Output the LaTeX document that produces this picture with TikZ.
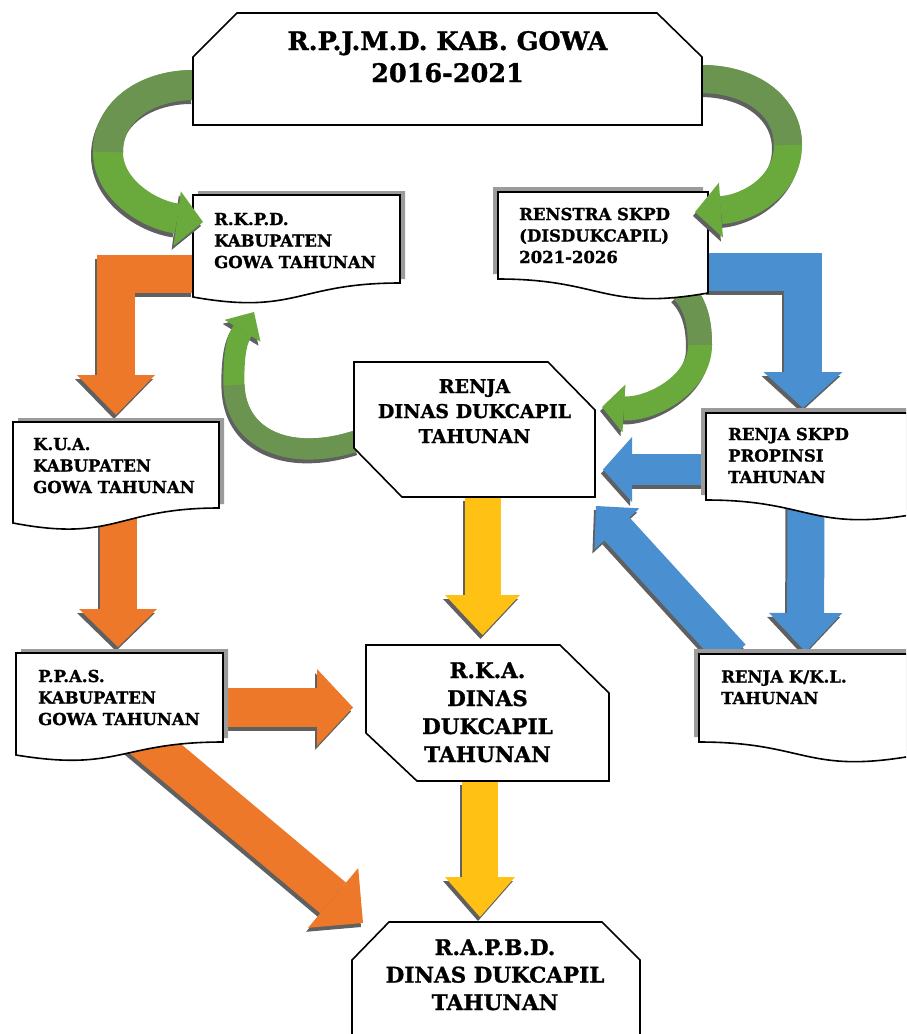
\documentclass[tikz,border=0pt]{standalone}
\usepackage{fontspec}
\setmainfont{DejaVu Serif}[BoldFont={DejaVu Serif Bold}, BoldFeatures={FakeBold=1.2}]
\usetikzlibrary{arrows.meta,calc}

\definecolor{orangeflow}{RGB}{237,120,42}
\definecolor{blueflow}{RGB}{74,143,208}
\definecolor{yellowflow}{RGB}{255,194,20}
\definecolor{greenflow}{RGB}{106,170,61}
\definecolor{olivegreen}{RGB}{106,148,80}
\definecolor{shadowgray}{RGB}{96,96,96}
\definecolor{boxgray}{RGB}{155,155,155}

\newcommand{\flowarrow}[2]{%
  \draw[#1, draw=shadowgray, transform canvas={shift={(-2pt,-4pt)}}] #2;
  \draw[#1] #2;}
\newcommand{\docleft}[2]{%
  \fill[boxgray, transform canvas={shift={(5pt,4pt)}}] (#1.north west) -- (#1.north east) -- (#1.south east)
    .. controls (#1.south) and ($(#1.south)+(0,2.316*#2)$) .. ($(#1.south west)+(0,#2)$) -- cycle;
  \draw[boxline] (#1.north west) -- (#1.north east) -- (#1.south east)
    .. controls (#1.south) and ($(#1.south)+(0,2.316*#2)$) .. ($(#1.south west)+(0,#2)$) -- cycle;}
\newcommand{\docright}[2]{%
  \fill[boxgray, transform canvas={shift={(-5pt,5pt)}}] (#1.north west) -- (#1.north east) -- ($(#1.south east)+(0,#2)$)
    .. controls ($(#1.south)+(0,2.316*#2)$) and (#1.south) .. (#1.south west) -- cycle;
  \draw[boxline] (#1.north west) -- (#1.north east) -- ($(#1.south east)+(0,#2)$)
    .. controls ($(#1.south)+(0,2.316*#2)$) and (#1.south) .. (#1.south west) -- cycle;}

\begin{document}
\begin{tikzpicture}[x=1pt,y=-1pt]
\tikzset{boxarea/.style={inner sep=0pt, outer sep=0pt},
boxline/.style={draw=black, line width=1.6pt, fill=white, line join=miter},
doctext/.style={font=\bfseries\fontsize{16.5}{21.5}\selectfont, align=left, inner sep=0pt, anchor=base west},
bigtext/.style 2 args={font=\bfseries\fontsize{#1}{#2}\selectfont, align=center, inner sep=0pt, anchor=base},
flow/.style={line width=#1, line join=miter},
tiphead/.style 2 args={-{Triangle[length=#1,width=#2,line width=0pt]}}}
\useasboundingbox (0,0) rectangle (906,1034);
\clip (0,0) rectangle (906,1034);

\node[boxarea, minimum width=509pt, minimum height=112pt] (rpjmd) at (447.5,69) {};
\node[boxarea, minimum width=207pt, minimum height=88pt] (rkpd) at (296.5,239) {};
\node[boxarea, minimum width=210pt, minimum height=87pt] (renstra) at (603,235.5) {};
\node[boxarea, minimum width=206pt, minimum height=86pt] (kua) at (116,465) {};
\node[boxarea, minimum width=207pt, minimum height=89pt] (ppas) at (119.5,697.5) {};
\node[boxarea, minimum width=241pt, minimum height=135pt] (renja) at (474.5,429.5) {};
\node[boxarea, minimum width=210pt, minimum height=87pt] (propinsi) at (811,456.5) {};
\node[boxarea, minimum width=243pt, minimum height=136pt] (rka) at (487.5,713) {};
\node[boxarea, minimum width=213pt, minimum height=88pt] (kkl) at (805.5,698) {};
\node[boxarea, minimum width=288pt, minimum height=150pt] (rapbd) at (496,997) {};

\coordinate (bendL) at (108,152);
\coordinate (bendR) at (788,145);
\coordinate (bendM) at (700,345);
\coordinate (bendB) at (234,385);

% orange flow
\flowarrow{flow=38pt, draw=orangeflow, tiphead={40pt}{78pt}}{($(rkpd.west)+(0,35)$) -| ($(kua.north)+(0,-7)$)}
\flowarrow{flow=37pt, draw=orangeflow, tiphead={38pt}{78pt}}{($(kua.south)+(2,0)$) -- ($(kua.south |- ppas.north)+(2,-6)$)}
\flowarrow{flow=39pt, draw=orangeflow, tiphead={36pt}{77pt}}{($(ppas.east)+(0,10)$) -- ($(rka.west |- ppas.east)+(-13,10)$)}
\flowarrow{flow=40pt, draw=orangeflow, tiphead={39pt}{78pt}}{($(ppas.south)+(16,-10)$) -- ($(rapbd.north west)+(11,1)$)}

% yellow flow
\flowarrow{flow=36pt, draw=yellowflow, tiphead={40pt}{75pt}}{($(renja.south)+(8,0)$) -- ($(renja.south |- rka.north)+(8,-10)$)}
\flowarrow{flow=36pt, draw=yellowflow, tiphead={40pt}{70pt}}{($(rka.south)+(-7.5,0)$) -- ($(rka.south |- rapbd.north)+(-7.5,-5)$)}

% blue flow
\flowarrow{flow=38pt, draw=blueflow, tiphead={36pt}{79pt}}{($(renstra.east)+(0,36)$) -| ($(propinsi.north)+(-8,-5)$)}
\flowarrow{flow=31pt, draw=blueflow, tiphead={29pt}{65pt}}{($(propinsi.west)+(0,13)$) -- ($(renja.east |- propinsi.west)+(8,13)$)}
\flowarrow{flow=37pt, draw=blueflow, tiphead={39pt}{73pt}}{($(propinsi.south)+(-5,0)$) -- ($(kkl.north)+(0,-2)$)}
\flowarrow{flow=34pt, draw=blueflow, tiphead={31pt}{61pt}}{($(kkl.north west)+(34,2)$) -- ($(renja.south east)+(1,9)$)}

% green flow, lower
\flowarrow{flow=24pt, draw=greenflow, tiphead={22pt}{48pt}}{($(renstra.south)+(79,11)$) .. controls +(15,15) and +(0,-20) .. (bendM) .. controls +(0,40) and +(48,3) .. ($(renja.east)+(7,-22.5)$)}
\draw[flow=24pt, draw=olivegreen] ($(renstra.south)+(79,11)$) .. controls +(15,15) and +(0,-20) .. (bendM);
\flowarrow{flow=21pt, draw=greenflow, tiphead={22pt}{42pt}}{($(renja.west)+(2,11.5)$) .. controls +(-66,21) and +(2,55) .. (bendB) .. controls +(-1,-40) and +(-14,23) .. ($(rkpd.south)+(-42.5,29)$)}
\draw[flow=21pt, draw=olivegreen] ($(renja.west)+(2,11.5)$) .. controls +(-66,21) and +(2,55) .. (bendB);

% boxes
\docleft{rkpd}{14}
\docright{renstra}{14}
\docleft{kua}{15}
\docleft{ppas}{13}
\docright{propinsi}{14}
\docright{kkl}{14}
\draw[boxline] (renja.north west) -- ($(renja.north east)+(-47,0)$) -- ($(renja.north east)+(0,48)$) -- (renja.south east) -- ($(renja.south west)+(48,0)$) -- ($(renja.south west)+(0,-49)$) -- cycle;
\draw[boxline] (rka.north west) -- ($(rka.north east)+(-49,0)$) -- ($(rka.north east)+(0,48)$) -- (rka.south east) -- ($(rka.south west)+(51,0)$) -- ($(rka.south west)+(0,-48)$) -- cycle;
\draw[boxline] ($(rapbd.north west)+(37,0)$) -- ($(rapbd.north east)+(-38,0)$) -- ($(rapbd.north east)+(0,38)$) -- (rapbd.south east) -- (rapbd.south west) -- ($(rapbd.north west)+(0,38)$) -- cycle;

% green flow, upper
\flowarrow{flow=30pt, draw=greenflow, tiphead={26pt}{55pt}}{($(rpjmd.west)+(0,16)$) .. controls +(-45,0) and +(0,-42) .. (bendL) .. controls +(0,38) and +(-53,-7) .. ($(rkpd.west)+(10,-17)$)}
\draw[flow=30pt, draw=olivegreen] ($(rpjmd.west)+(0,16)$) .. controls +(-45,0) and +(0,-42) .. (bendL);
\flowarrow{flow=28pt, draw=greenflow, tiphead={26pt}{55pt}}{($(rpjmd.east)+(0,10)$) .. controls +(48,0) and +(0,-40) .. (bendR) .. controls +(0,40) and +(55,-4) .. ($(renstra.east)+(-13,-23.5)$)}
\draw[flow=28pt, draw=olivegreen] ($(rpjmd.east)+(0,10)$) .. controls +(48,0) and +(0,-40) .. (bendR);

\draw[boxline] ($(rpjmd.north west)+(44,0)$) -- ($(rpjmd.north east)+(-45,0)$) -- ($(rpjmd.north east)+(0,44)$) -- (rpjmd.south east) -- (rpjmd.south west) -- ($(rpjmd.north west)+(0,44)$) -- cycle;

% texts
\node[bigtext={25.5}{32}] (rpjmdtext) at ($(rpjmd.north)+(0,69)$) {R.P.J.M.D. KAB. GOWA\\2016-2021};
\node[doctext] (rkpdtext) at ($(rkpd.north west)+(21,73)$) {R.K.P.D.\\KABUPATEN\\GOWA TAHUNAN};
\node[doctext] (renstratext) at ($(renstra.north west)+(21,71)$) {RENSTRA SKPD\\(DISDUKCAPIL)\\2021-2026};
\node[doctext] (kuatext) at ($(kua.north west)+(20,71)$) {K.U.A.\\KABUPATEN\\GOWA TAHUNAN};
\node[doctext] (ppastext) at ($(ppas.north west)+(22,72)$) {P.P.A.S.\\KABUPATEN\\GOWA TAHUNAN};
\node[doctext] (propinsitext) at ($(propinsi.north west)+(22,70)$) {RENJA SKPD\\PROPINSI\\TAHUNAN};
\node[doctext] (kkltext) at ($(kkl.north west)+(22,50)$) {RENJA K/K.L.\\TAHUNAN};
\node[bigtext={19}{25}] (renjatext) at ($(renja.north)+(0,81)$) {RENJA\\DINAS DUKCAPIL\\TAHUNAN};
\node[bigtext={21.5}{28}] (rkatext) at ($(rka.north)+(0,117)$) {R.K.A.\\DINAS\\DUKCAPIL\\TAHUNAN};
\node[bigtext={21.5}{27.5}] (rapbdtext) at ($(rapbd.north)+(-1,88)$) {R.A.P.B.D.\\DINAS DUKCAPIL\\TAHUNAN};
\end{tikzpicture}
\end{document}
